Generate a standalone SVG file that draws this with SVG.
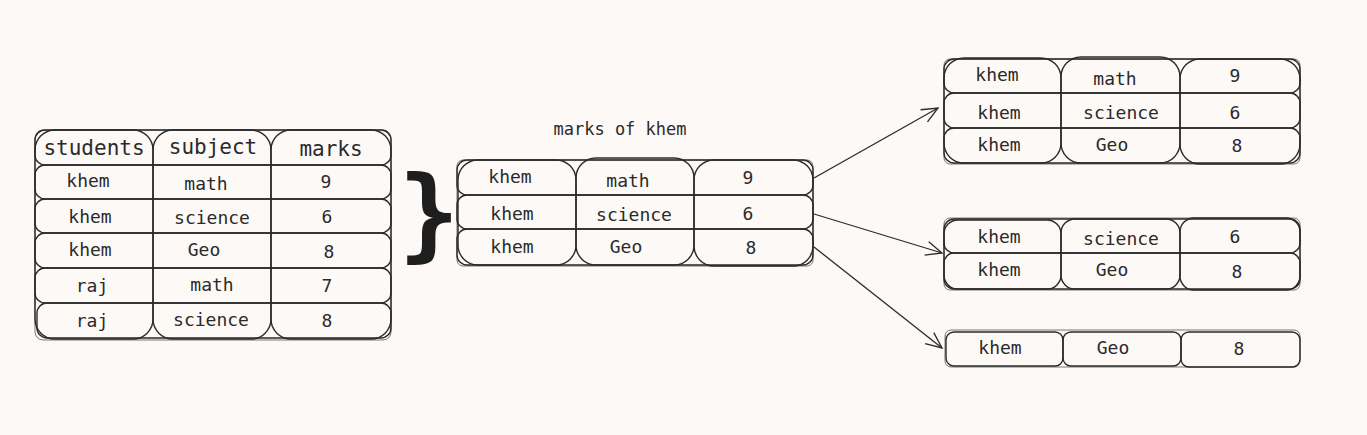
<svg xmlns="http://www.w3.org/2000/svg" width="1367" height="435" viewBox="0 0 1367 435">
<defs>
<style>
.bg{fill:#fdf9f7}
.cell{fill:none;stroke:#2a2a2a;stroke-width:1.4}
.cell2{fill:none;stroke:#555;stroke-width:0.8}
.t{font-family:"DejaVu Sans Mono","Liberation Mono",monospace;font-size:18px;fill:#2a2a2a;text-anchor:middle;dominant-baseline:central}
.h{font-size:21px}
.lbl{font-size:17px}
.conn{fill:none;stroke:#2a2a2a;stroke-width:1.3}
</style>
<marker id="arr" viewBox="0 0 20 20" refX="18" refY="10" markerWidth="20" markerHeight="20" markerUnits="userSpaceOnUse" orient="auto">
<path d="M2,3 L18,10 L2,17" fill="none" stroke="#2a2a2a" stroke-width="1.3"/>
</marker>
</defs>
<rect class="bg" x="0" y="0" width="1367" height="435"/>

<g id="table-all">
<rect class="cell2" x="35" y="130" width="356" height="210" rx="8"/>
<rect class="cell" x="35" y="130" width="118" height="209" rx="20"/>
<rect class="cell" x="153" y="130" width="118" height="209" rx="20"/>
<rect class="cell" x="271" y="130" width="120" height="209" rx="20"/>
<rect class="cell" x="35" y="130" width="356" height="35" rx="10"/>
<rect class="cell" x="35" y="165" width="356" height="34" rx="10"/>
<rect class="cell" x="35" y="199" width="356" height="34" rx="10"/>
<rect class="cell" x="35" y="233" width="356" height="35" rx="10"/>
<rect class="cell" x="35" y="268" width="356" height="35" rx="10"/>
<rect class="cell" x="37" y="303" width="354" height="35" rx="10"/>
<text class="t h" x="94" y="148">students</text>
<text class="t h" x="213" y="147">subject</text>
<text class="t h" x="331" y="149">marks</text>
<text class="t" x="88" y="180">khem</text>
<text class="t" x="206" y="183">math</text>
<text class="t" x="326" y="181">9</text>
<text class="t" x="90" y="216">khem</text>
<text class="t" x="212" y="217">science</text>
<text class="t" x="327" y="216">6</text>
<text class="t" x="90" y="249">khem</text>
<text class="t" x="204" y="249">Geo</text>
<text class="t" x="329" y="251">8</text>
<text class="t" x="92" y="285">raj</text>
<text class="t" x="212" y="284">math</text>
<text class="t" x="327" y="285">7</text>
<text class="t" x="92" y="320">raj</text>
<text class="t" x="211" y="319">science</text>
<text class="t" x="327" y="320">8</text>
</g>

<g id="brace">
<text x="429" y="212" style="font-family:'DejaVu Sans Mono',monospace;font-size:102px;font-weight:bold;fill:#1e1e1e;text-anchor:middle;dominant-baseline:central">}</text>
</g>

<g id="table-khem">
<text class="t lbl" x="620" y="129">marks of khem</text>
<rect class="cell2" x="457" y="160" width="356" height="106" rx="6"/>
<rect class="cell" x="458" y="160" width="118" height="105" rx="20"/>
<rect class="cell" x="576" y="158" width="118" height="107" rx="20"/>
<rect class="cell" x="694" y="160" width="119" height="106" rx="20"/>
<rect class="cell" x="457" y="160" width="356" height="35" rx="10"/>
<rect class="cell" x="457" y="195" width="356" height="34" rx="10"/>
<rect class="cell" x="457" y="229" width="356" height="36" rx="10"/>
<text class="t" x="510" y="176">khem</text>
<text class="t" x="628" y="180">math</text>
<text class="t" x="748" y="177">9</text>
<text class="t" x="512" y="213">khem</text>
<text class="t" x="634" y="214">science</text>
<text class="t" x="748" y="213">6</text>
<text class="t" x="512" y="246">khem</text>
<text class="t" x="626" y="246">Geo</text>
<text class="t" x="751" y="247">8</text>
</g>

<g id="table-3">
<rect class="cell2" x="944" y="59" width="356" height="105" rx="6"/>
<rect class="cell" x="944" y="58" width="117" height="105" rx="20"/>
<rect class="cell" x="1061" y="57" width="119" height="106" rx="20"/>
<rect class="cell" x="1180" y="59" width="120" height="105" rx="20"/>
<rect class="cell" x="944" y="59" width="356" height="34" rx="10"/>
<rect class="cell" x="944" y="93" width="356" height="35" rx="10"/>
<rect class="cell" x="944" y="128" width="356" height="35" rx="10"/>
<text class="t" x="997" y="74">khem</text>
<text class="t" x="1115" y="78">math</text>
<text class="t" x="1235" y="75">9</text>
<text class="t" x="999" y="112">khem</text>
<text class="t" x="1121" y="112">science</text>
<text class="t" x="1235" y="112">6</text>
<text class="t" x="999" y="144">khem</text>
<text class="t" x="1112" y="144">Geo</text>
<text class="t" x="1237" y="145">8</text>
</g>

<g id="table-2">
<rect class="cell2" x="944" y="218" width="356" height="72" rx="6"/>
<rect class="cell" x="944" y="220" width="117" height="69" rx="14"/>
<rect class="cell" x="1061" y="219" width="119" height="70" rx="14"/>
<rect class="cell" x="1180" y="218" width="120" height="72" rx="14"/>
<rect class="cell" x="944" y="219" width="356" height="34" rx="10"/>
<rect class="cell" x="944" y="253" width="356" height="36" rx="10"/>
<text class="t" x="999" y="236">khem</text>
<text class="t" x="1121" y="238">science</text>
<text class="t" x="1235" y="236">6</text>
<text class="t" x="999" y="269">khem</text>
<text class="t" x="1112" y="269">Geo</text>
<text class="t" x="1237" y="271">8</text>
</g>

<g id="table-1">
<rect class="cell2" x="945" y="330" width="355" height="37" rx="6"/>
<rect class="cell" x="946" y="332" width="117" height="34" rx="8"/>
<rect class="cell" x="1063" y="332" width="118" height="34" rx="8"/>
<rect class="cell" x="1181" y="332" width="119" height="35" rx="8"/>
<text class="t" x="1000" y="347">khem</text>
<text class="t" x="1113" y="347">Geo</text>
<text class="t" x="1239" y="348">8</text>
</g>

<g id="connectors">
<path class="conn" d="M814,178 L938,108" marker-end="url(#arr)"/>
<path class="conn" d="M814,214 L942,253" marker-end="url(#arr)"/>
<path class="conn" d="M814,247 L942,348" marker-end="url(#arr)"/>
</g>
</svg>
